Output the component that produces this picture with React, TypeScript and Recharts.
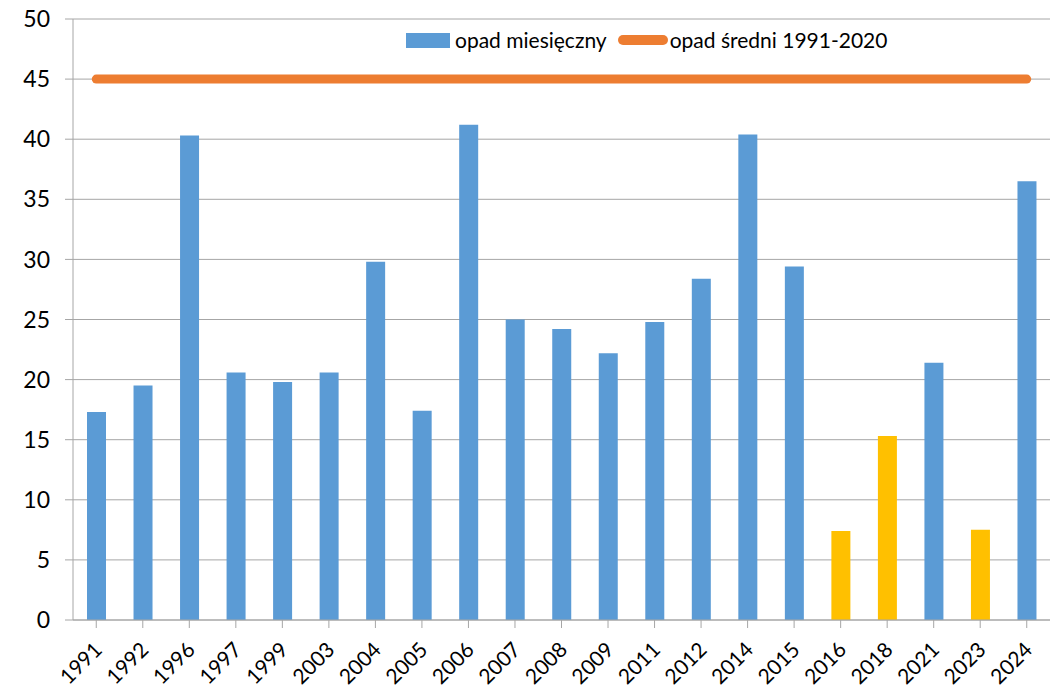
import React from "react";
import {
  ComposedChart,
  Bar,
  Line,
  XAxis,
  YAxis,
  CartesianGrid,
  Cell,
} from "recharts";

// Opad miesieczny w kolejnych latach na tle sredniej z wielolecia 1991-2020.
const lata = [
  "1991", "1992", "1996", "1997", "1999", "2003", "2004", "2005", "2006", "2007",
  "2008", "2009", "2011", "2012", "2014", "2015", "2016", "2018", "2021", "2023", "2024",
];
const opad = [
  17.3, 19.5, 40.3, 20.6, 19.8, 20.6, 29.8, 17.4, 41.2, 25.0,
  24.2, 22.2, 24.8, 28.4, 40.4, 29.4, 7.4, 15.3, 21.4, 7.5, 36.5,
];
const sredniaWielolecia = 45;
const lataSuche = ["2016", "2018", "2023"];
const osY = [0, 5, 10, 15, 20, 25, 30, 35, 40, 45, 50];

const dane = lata.map((rok, i) => ({ rok, opad: opad[i], srednia: sredniaWielolecia }));

const FONT = "Lato, 'Open Sans', sans-serif";
const NIEBIESKI = "#5B9BD5";
const POMARANCZ = "#ED7D31";
const ZOLTY = "#FFC000";

function TickRok({ x, y, payload }: any) {
  const tx = x + 7;
  const ty = y + 21;
  return (
    <text
      x={tx}
      y={ty}
      transform={`rotate(-45, ${tx}, ${ty})`}
      textAnchor="end"
      fontSize={21}
      fontFamily={FONT}
      fill="#000"
    >
      {payload.value}
    </text>
  );
}

function Legenda() {
  return (
    <div
      style={{
        position: "absolute",
        left: 406,
        top: 26,
        display: "flex",
        alignItems: "center",
        fontFamily: FONT,
        fontSize: 21,
        color: "#000",
        lineHeight: "28px",
      }}
    >
      <span style={{ width: 44, height: 15, background: NIEBIESKI, display: "inline-block", marginRight: 5 }} />
      <span style={{ marginRight: 11 }}>opad miesięczny</span>
      <span style={{ width: 50, height: 10, borderRadius: 5, background: POMARANCZ, display: "inline-block", marginRight: 2 }} />
      <span>opad średni 1991-2020</span>
    </div>
  );
}

export default function App() {
  return (
    <div style={{ position: "absolute", left: 0, top: 0, width: 1056, height: 689, background: "#fff" }}>
      <ComposedChart
        width={1056}
        height={689}
        data={dane}
        margin={{ top: 19, right: 6, left: 0, bottom: 0 }}
      >
        <CartesianGrid vertical={false} stroke="#a6a6a6" strokeWidth={1} />
        <XAxis
          dataKey="rok"
          height={69}
          interval={0}
          tick={<TickRok />}
          tickSize={8}
          axisLine={{ stroke: "#a6a6a6" }}
          tickLine={{ stroke: "#a6a6a6" }}
        />
        <YAxis
          width={73}
          domain={[0, 50]}
          ticks={osY}
          interval={0}
          tickSize={8}
          tickMargin={15}
          axisLine={{ stroke: "#a6a6a6" }}
          tickLine={{ stroke: "#a6a6a6" }}
          tick={{ fontSize: 23, fontFamily: FONT, fill: "#000" }}
        />
        <Bar dataKey="opad" barSize={19} isAnimationActive={false}>
          {dane.map((d) => (
            <Cell key={d.rok} fill={lataSuche.includes(d.rok) ? ZOLTY : NIEBIESKI} />
          ))}
        </Bar>
        <Line
          dataKey="srednia"
          stroke={POMARANCZ}
          strokeWidth={9}
          strokeLinecap="round"
          dot={false}
          activeDot={false}
          isAnimationActive={false}
        />
      </ComposedChart>
      <Legenda />
    </div>
  );
}
